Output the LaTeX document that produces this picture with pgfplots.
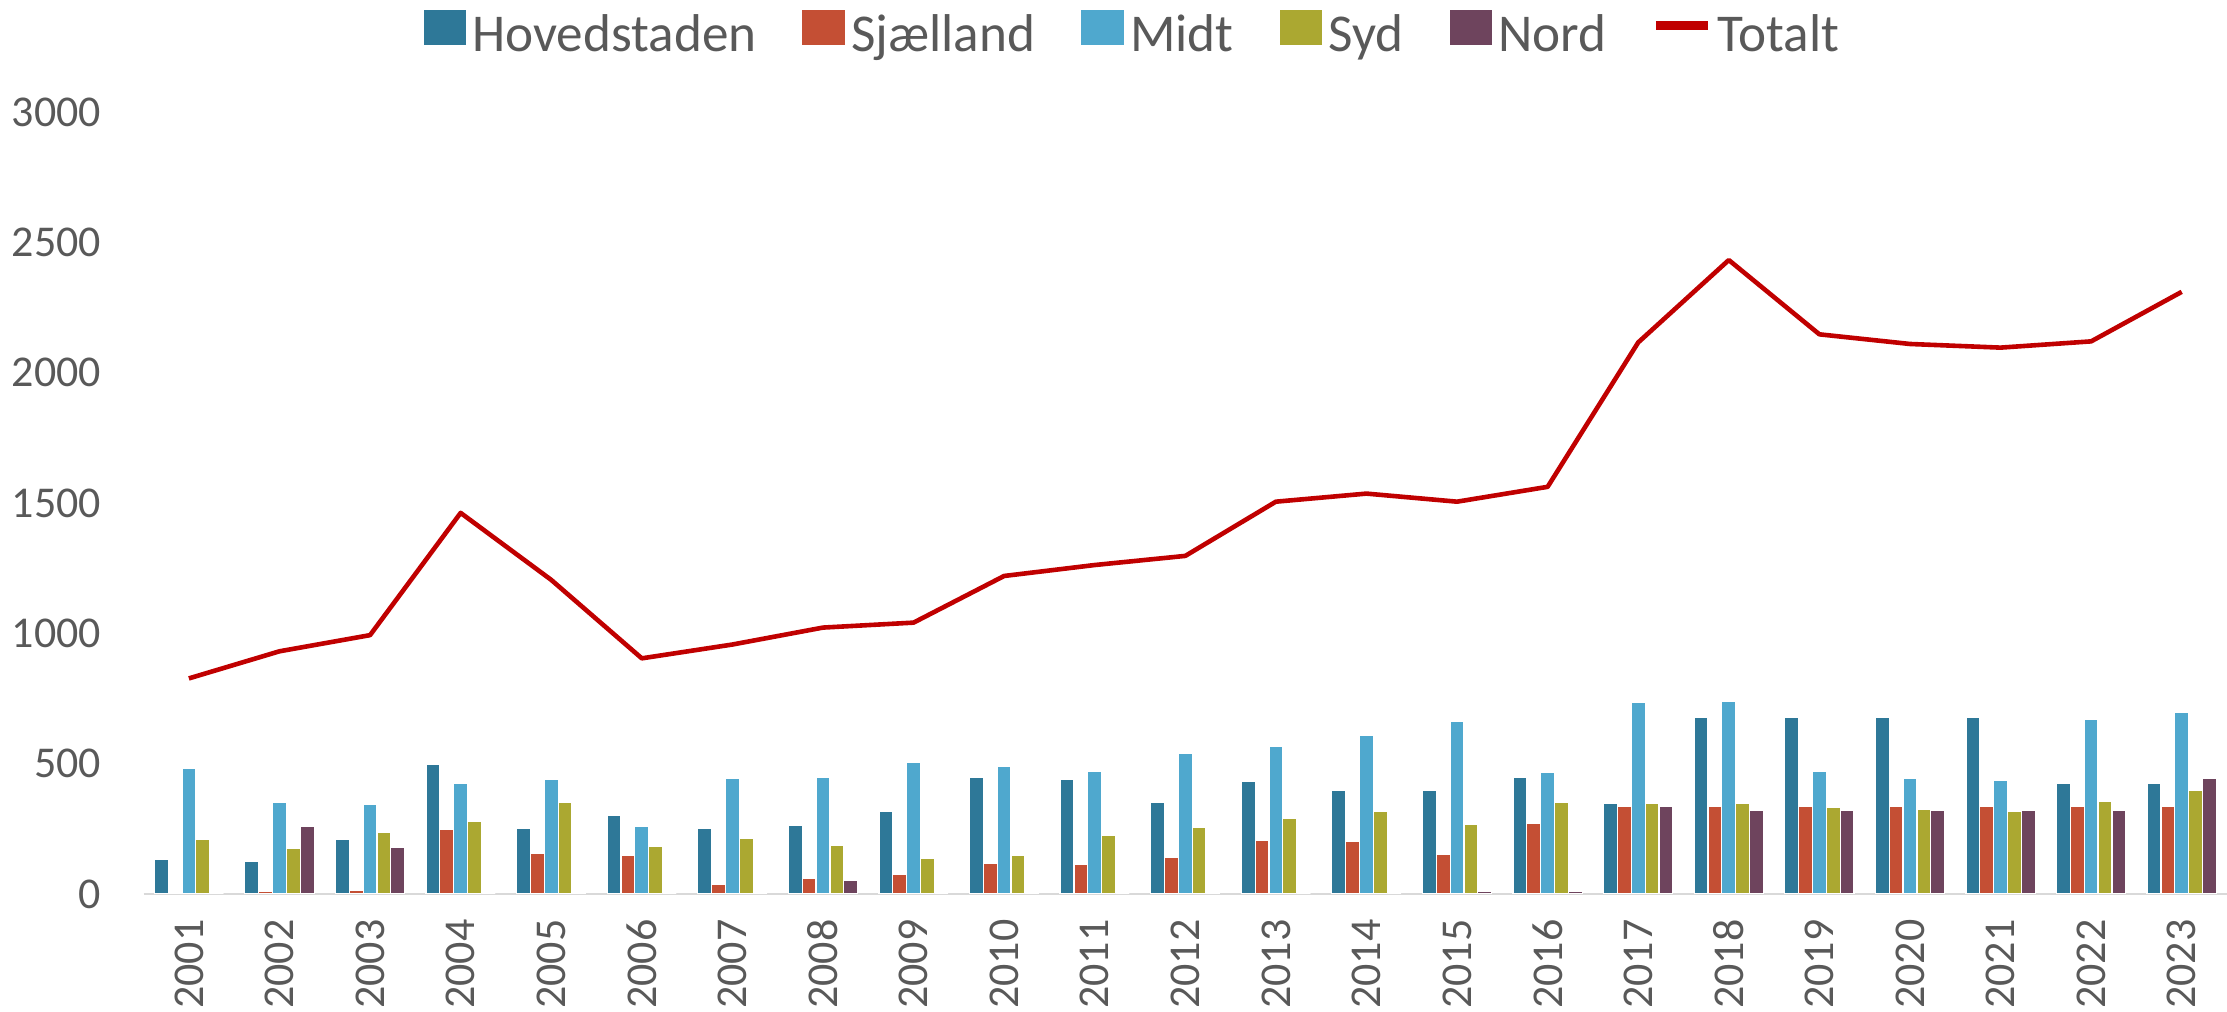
\documentclass[border=0pt]{standalone}
\usepackage{fontspec}
\setmainfont{Carlito}
\usepackage{pgfplots}
\usepackage{pgfplotstable}
\pgfplotsset{compat=1.18}
\usetikzlibrary{calc}

\definecolor{hov}{HTML}{2E7898}
\definecolor{sja}{HTML}{C44F34}
\definecolor{midt}{HTML}{4FA8CE}
\definecolor{syd}{HTML}{ABA831}
\definecolor{nord}{HTML}{6E445D}
\definecolor{tot}{HTML}{C00000}
\definecolor{txt}{HTML}{595959}
\definecolor{axgray}{HTML}{D9D9D9}

% idx 0 = 2001 ... 22 = 2023
\pgfplotstableread{
idx hov sja midt syd nord tot
0  131 0   483 208 0   827
1  124 8   353 176 258 931
2  208 13  345 237 179 993
3  496 249 426 279 0   1462
4  250 154 441 350 0   1205
5  300 149 260 183 0   904
6  250 38  442 213 0   957
7  263 58  447 188 53  1022
8  318 74  505 135 0   1041
9  449 119 491 149 0   1220
10 441 113 472 223 0   1262
11 353 141 540 256 0   1297
12 431 206 567 291 0   1505
13 396 203 610 315 0   1536
14 399 153 663 268 9   1505
15 447 272 467 353 9   1562
16 349 336 735 349 336 2116
17 676 336 740 349 319 2432
18 676 336 472 333 319 2147
19 676 336 444 324 319 2110
20 676 336 437 317 319 2096
21 426 336 669 356 319 2120
22 426 336 695 396 445 2310
}\data

\pgfplotsset{
  sq legend/.style={legend image code/.code={\fill[##1] (0pt,-2.3pt) rectangle (11pt,6.7pt);}},
}

\begin{document}
\begin{tikzpicture}
\begin{axis}[
  name=ax,
  scale only axis, width=520.85pt, height=195.5pt,
  ybar=0pt, bar width=0.153,
  xmin=-0.5, xmax=22.5, ymin=0, ymax=3000,
  xtick={0,1,...,22},
  xticklabels={2001,2002,2003,2004,2005,2006,2007,2008,2009,2010,2011,2012,2013,2014,2015,2016,2017,2018,2019,2020,2021,2022,2023},
  ytick={0,500,...,3000},
  major tick length=0pt,
  axis x line*=bottom, axis y line*=left,
  x axis line style={axgray, line width=0.6pt, -},
  y axis line style={draw=none},
  tick label style={font=\fontsize{11}{13}\selectfont, text=txt},
  /pgf/number format/assume math mode=true,
  yticklabel style={/pgf/number format/1000 sep={}, anchor=east, inner sep=0pt},
  yticklabel shift=10.4pt,
  xticklabel style={rotate=90, anchor=east, inner sep=0pt},
  xticklabel shift=6.2pt,
  legend columns=-1,
  legend style={at={(0.475,1.097)}, anchor=center, draw=none, fill=none,
    font=\fontsize{13.3}{16}\selectfont, text=txt,
    nodes={inner xsep=1.2pt},
    /tikz/every even column/.append style={column sep=10pt}},
]
\addplot[fill=hov, draw=white, line width=0.3pt, sq legend] table[x=idx, y=hov] {\data};
\addplot[fill=sja, draw=white, line width=0.3pt, sq legend] table[x=idx, y=sja] {\data};
\addplot[fill=midt, draw=white, line width=0.3pt, sq legend] table[x=idx, y=midt] {\data};
\addplot[fill=syd, draw=white, line width=0.3pt, sq legend] table[x=idx, y=syd] {\data};
\addplot[fill=nord, draw=white, line width=0.3pt, sq legend] table[x=idx, y=nord] {\data};
\addplot[sharp plot, tot, line width=1.15pt, line join=round,
  legend image code/.code={\draw[tot, line width=2.3pt] (0pt,2.6pt) -- (13pt,2.6pt);}]
  table[x=idx, y=tot] {\data};
\legend{Hovedstaden, Sjælland, Midt, Syd, Nord, Totalt}
\end{axis}
\pgfresetboundingbox
\path ($(ax.south west)+(-35.9pt,-29.5pt)$) rectangle ($(ax.north east)+(0pt,28pt)$);
\end{tikzpicture}
\end{document}
